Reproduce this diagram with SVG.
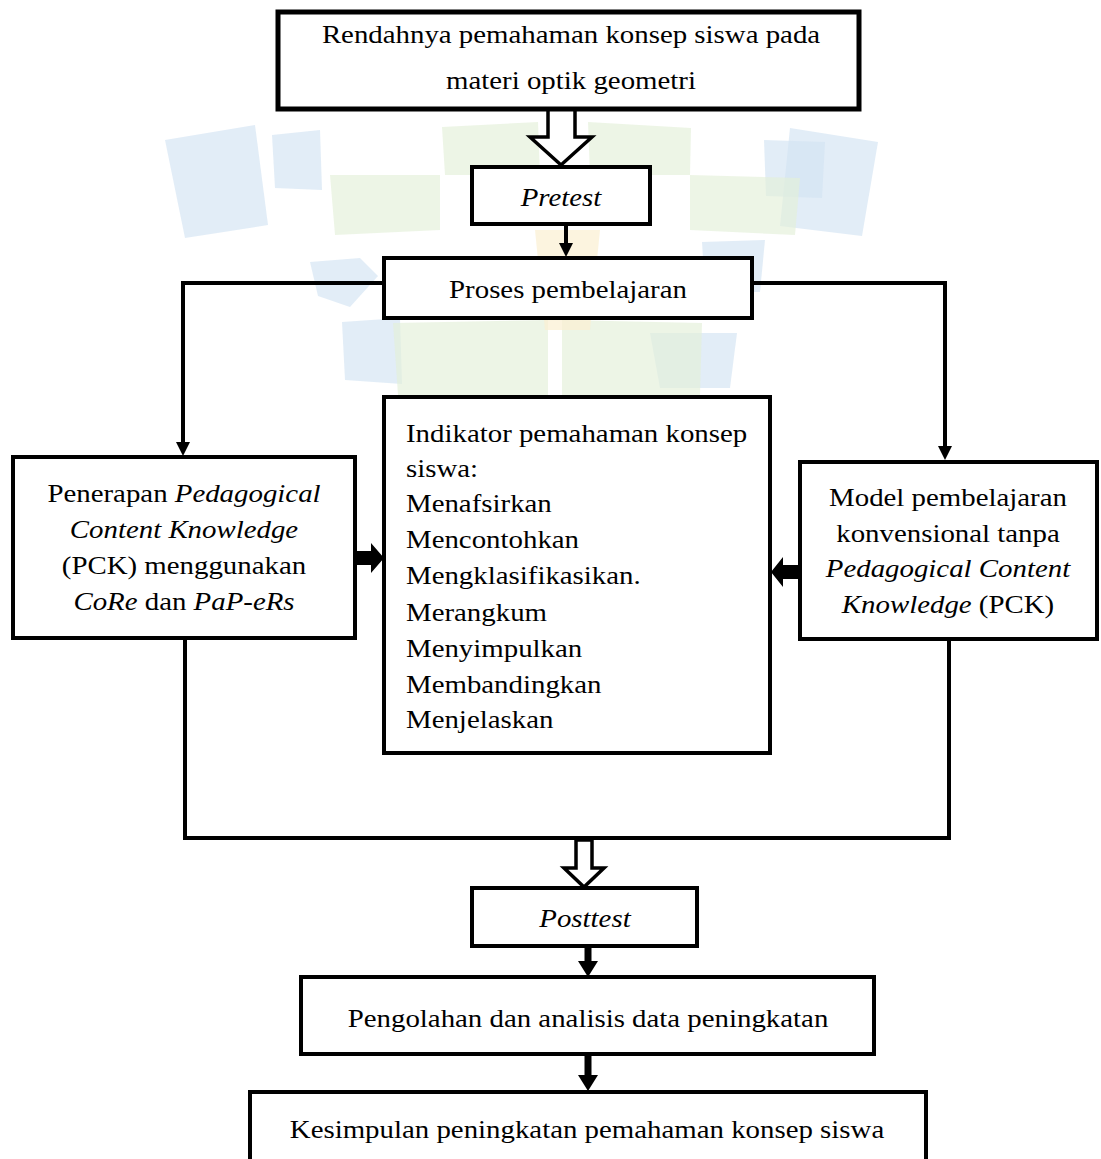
<svg xmlns="http://www.w3.org/2000/svg" width="1101" height="1159" viewBox="0 0 1101 1159">
<style>
.box{fill:#fff;stroke:#000;stroke-width:4}
.t{font-family:"Liberation Serif","Times New Roman",serif;font-size:26px;fill:#000}
.c{text-anchor:middle}
.i{font-style:italic}
.ln{fill:none;stroke:#000;stroke-width:4}
.hollow{fill:#fff;stroke:#000;stroke-width:3.5;stroke-linejoin:miter}
.solid{fill:#000}
.wb{fill:#d3e4f3;opacity:0.65}
.wg{fill:#e4efd9;opacity:0.65}
.wy{fill:#fbefd2;opacity:0.7}
</style>
<defs>
<marker id="ah" markerUnits="userSpaceOnUse" markerWidth="14" markerHeight="14" refX="0" refY="7" orient="auto">
<path d="M0,0 L14,7 L0,14 z" fill="#000"/>
</marker>
<marker id="ahb" markerUnits="userSpaceOnUse" markerWidth="16" markerHeight="20" refX="0" refY="10" orient="auto">
<path d="M0,0 L16,10 L0,20 z" fill="#000"/>
</marker>
</defs>
<rect width="1101" height="1159" fill="#fff"/>
<g id="watermark">
<polygon class="wb" points="165,140 255,125 268,225 185,238"/>
<polygon class="wb" points="790,128 878,142 862,236 780,226"/>
<polygon class="wb" points="272,135 320,130 322,190 275,188"/>
<polygon class="wb" points="764,140 825,142 822,198 766,196"/>
<polygon class="wb" points="310,262 360,258 378,276 350,307 318,296"/>
<polygon class="wb" points="342,322 400,318 402,384 345,380"/>
<polygon class="wb" points="702,242 765,240 760,292 705,292"/>
<polygon class="wb" points="650,333 737,333 730,388 660,388"/>
<polygon class="wg" points="442,127 538,122 540,175 445,175"/>
<polygon class="wg" points="588,122 691,128 690,175 590,175"/>
<polygon class="wg" points="393,323 548,320 548,395 398,395"/>
<polygon class="wg" points="562,320 702,323 700,395 562,395"/>
<polygon class="wg" points="330,175 440,175 440,230 335,235"/>
<polygon class="wg" points="690,175 800,178 795,235 690,230"/>
<polygon class="wy" points="535,230 600,230 590,330 545,330"/>
</g>
<g id="connectors">
<polygon class="hollow" points="548,109 575,109 575,137 592,137 561,165 530,137 548,137"/>
<path class="ln" d="M566,225 L566,243" marker-end="url(#ah)"/>
<path class="ln" d="M384,283 L183,283 L183,442" marker-end="url(#ah)"/>
<path class="ln" d="M752,283 L945,283 L945,446" marker-end="url(#ah)"/>
<polygon class="solid" points="355,551 371,551 371,543 384,558 371,573 371,565 355,565"/>
<polygon class="solid" points="799,565 783,565 783,557 771,572 783,587 783,579 799,579"/>
<path class="ln" d="M185,638 L185,838 L949,838 L949,639"/>
<polygon class="hollow" points="576,840 592,840 592,868 604,868 584,887 564,868 576,868"/>
<path class="ln" style="stroke-width:7" d="M588,947 L588,961" marker-end="url(#ahb)"/>
<path class="ln" style="stroke-width:7" d="M588,1055 L588,1075" marker-end="url(#ahb)"/>
</g>
<g id="n1">
<rect class="box" x="278" y="12" width="581" height="97" style="stroke-width:5"/>
<text class="t c" transform="translate(571,43) scale(1.11,1)">Rendahnya pemahaman konsep siswa pada</text>
<text class="t c" transform="translate(571,89) scale(1.11,1)">materi optik geometri</text>
</g>
<g id="n2">
<rect class="box" x="472" y="167" width="178" height="57"/>
<text class="t c i" transform="translate(561,206) scale(1.11,1)">Pretest</text>
</g>
<g id="n3">
<rect class="box" x="384" y="258" width="368" height="60"/>
<text class="t c" transform="translate(568,298) scale(1.11,1)">Proses pembelajaran</text>
</g>
<g id="n4">
<rect class="box" x="13" y="457" width="342" height="181"/>
<text class="t c" transform="translate(184,502) scale(1.11,1)">Penerapan <tspan class="i">Pedagogical</tspan></text>
<text class="t c i" transform="translate(184,538) scale(1.11,1)">Content Knowledge</text>
<text class="t c" transform="translate(184,574) scale(1.11,1)">(PCK) menggunakan</text>
<text class="t c" transform="translate(184,610) scale(1.11,1)"><tspan class="i">CoRe</tspan> dan <tspan class="i">PaP-eRs</tspan></text>
</g>
<g id="n5">
<rect class="box" x="384" y="397" width="386" height="356"/>
<text class="t" transform="translate(406,442) scale(1.11,1)">Indikator pemahaman konsep</text>
<text class="t" transform="translate(406,477) scale(1.11,1)">siswa:</text>
<text class="t" transform="translate(406,512) scale(1.11,1)">Menafsirkan</text>
<text class="t" transform="translate(406,548) scale(1.11,1)">Mencontohkan</text>
<text class="t" transform="translate(406,584) scale(1.11,1)">Mengklasifikasikan.</text>
<text class="t" transform="translate(406,621) scale(1.11,1)">Merangkum</text>
<text class="t" transform="translate(406,657) scale(1.11,1)">Menyimpulkan</text>
<text class="t" transform="translate(406,693) scale(1.11,1)">Membandingkan</text>
<text class="t" transform="translate(406,728) scale(1.11,1)">Menjelaskan</text>
</g>
<g id="n6">
<rect class="box" x="800" y="462" width="297" height="177"/>
<text class="t c" transform="translate(948,506) scale(1.11,1)">Model pembelajaran</text>
<text class="t c" transform="translate(948,542) scale(1.11,1)">konvensional tanpa</text>
<text class="t c i" transform="translate(948,577) scale(1.11,1)">Pedagogical Content</text>
<text class="t c" transform="translate(948,613) scale(1.11,1)"><tspan class="i">Knowledge</tspan> (PCK)</text>
</g>
<g id="n7">
<rect class="box" x="472" y="888" width="225" height="58"/>
<text class="t c i" transform="translate(585,927) scale(1.11,1)">Posttest</text>
</g>
<g id="n8">
<rect class="box" x="301" y="977" width="573" height="77"/>
<text class="t c" transform="translate(588,1027) scale(1.11,1)">Pengolahan dan analisis data peningkatan</text>
</g>
<g id="n9">
<rect class="box" x="250" y="1092" width="676" height="100"/>
<text class="t c" transform="translate(587,1138) scale(1.11,1)">Kesimpulan peningkatan pemahaman konsep siswa</text>
</g>
</svg>
